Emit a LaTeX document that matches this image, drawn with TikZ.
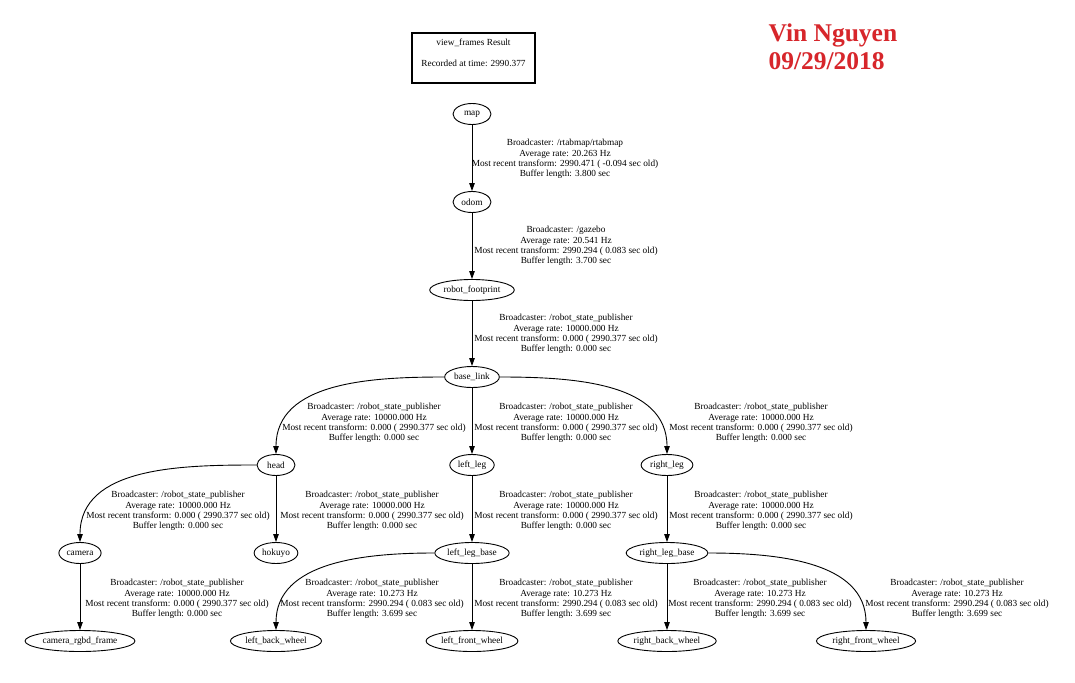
\documentclass[tikz,border=0pt]{standalone}
\usepackage{fontspec}
\setmainfont{Liberation Serif}
\usepackage{xcolor}
\usetikzlibrary{shapes.geometric,arrows.meta}
\definecolor{INK}{HTML}{000000}
\definecolor{SIGN}{HTML}{D7262B}

\begin{document}
\begin{tikzpicture}[
    x=1pt, y=-1pt,
    font=\fontsize{9.3}{10.4}\selectfont,
    frame/.style={ellipse, draw=INK, line width=0.9pt, inner xsep=1.5pt, inner ysep=0pt,
                  minimum height=21pt, minimum width=38pt},
    result/.style={draw=INK, line width=1.1pt, align=center, minimum width=123pt, minimum height=50pt},
    info/.style={align=center, text=INK},
    link/.style={draw=INK, line width=0.9pt, -{Triangle[length=8pt,width=5.5pt]}},
    sign/.style={font=\fontsize{25.5}{28}\selectfont\bfseries, text=SIGN, align=left, anchor=north west},
  ]

  \useasboundingbox[fill=white] (0,0) rectangle (1075,682);

  % --- header ---
  \node[result] (result) at (473.5,58) {view\_frames Result\\[10.4pt]Recorded at time: 2990.377\\\mbox{}};
  \node[sign] (sign) at (765,20) {Vin Nguyen\\09/29/2018};

  % --- frames ---
  \node[frame] (map)   at (472,114) {map};
  \node[frame] (odom)  at (472,202) {odom};
  \node[frame] (footprint) at (472,290) {robot\_footprint};
  \node[frame] (base)  at (472,377) {base\_link};
  \node[frame] (head)  at (276,465) {head};
  \node[frame] (lleg)  at (472,465) {left\_leg};
  \node[frame] (rleg)  at (667,465) {right\_leg};
  \node[frame] (camera) at (80,553) {camera};
  \node[frame] (hokuyo) at (276,553) {hokuyo};
  \node[frame] (llbase) at (472,553) {left\_leg\_base};
  \node[frame] (rlbase) at (667,553) {right\_leg\_base};
  \node[frame] (rgbd)  at (80,641) {camera\_rgbd\_frame};
  \node[frame] (lback) at (276,641) {left\_back\_wheel};
  \node[frame] (lfront) at (472,641) {left\_front\_wheel};
  \node[frame] (rback) at (667,641) {right\_back\_wheel};
  \node[frame] (rfront) at (866,641) {right\_front\_wheel};

  % --- transforms ---
  \draw[link] (map) -- (odom);
  \draw[link] (odom) -- (footprint);
  \draw[link] (footprint) -- (base);
  \draw[link] (base.west) to[out=180, in=90] (head.north);
  \draw[link] (base) -- (lleg);
  \draw[link] (base.east) to[out=0, in=90] (rleg.north);
  \draw[link] (head.west) to[out=180, in=90] (camera.north);
  \draw[link] (head) -- (hokuyo);
  \draw[link] (lleg) -- (llbase);
  \draw[link] (rleg) -- (rlbase);
  \draw[link] (camera) -- (rgbd);
  \draw[link] (llbase.west) to[out=180, in=90] (lback.north);
  \draw[link] (llbase) -- (lfront);
  \draw[link] (rlbase) -- (rback);
  \draw[link] (rlbase.east) to[out=0, in=90] (rfront.north);

  % --- broadcaster notes ---
  \node[info] (i1) at (565,159) {Broadcaster: /rtabmap/rtabmap\\Average rate: 20.263 Hz\\Most recent transform: 2990.471 ( -0.094 sec old)\\Buffer length: 3.800 sec};
  \node[info] (i2) at (566,246) {Broadcaster: /gazebo\\Average rate: 20.541 Hz\\Most recent transform: 2990.294 ( 0.083 sec old)\\Buffer length: 3.700 sec};
  \node[info] (i3) at (566,334) {Broadcaster: /robot\_state\_publisher\\Average rate: 10000.000 Hz\\Most recent transform: 0.000 ( 2990.377 sec old)\\Buffer length: 0.000 sec};

  \node[info] (i4) at (374,423) {Broadcaster: /robot\_state\_publisher\\Average rate: 10000.000 Hz\\Most recent transform: 0.000 ( 2990.377 sec old)\\Buffer length: 0.000 sec};
  \node[info] (i5) at (566,423) {Broadcaster: /robot\_state\_publisher\\Average rate: 10000.000 Hz\\Most recent transform: 0.000 ( 2990.377 sec old)\\Buffer length: 0.000 sec};
  \node[info] (i6) at (761,423) {Broadcaster: /robot\_state\_publisher\\Average rate: 10000.000 Hz\\Most recent transform: 0.000 ( 2990.377 sec old)\\Buffer length: 0.000 sec};

  \node[info] (i7) at (178,511) {Broadcaster: /robot\_state\_publisher\\Average rate: 10000.000 Hz\\Most recent transform: 0.000 ( 2990.377 sec old)\\Buffer length: 0.000 sec};
  \node[info] (i8) at (372,511) {Broadcaster: /robot\_state\_publisher\\Average rate: 10000.000 Hz\\Most recent transform: 0.000 ( 2990.377 sec old)\\Buffer length: 0.000 sec};
  \node[info] (i9) at (566,511) {Broadcaster: /robot\_state\_publisher\\Average rate: 10000.000 Hz\\Most recent transform: 0.000 ( 2990.377 sec old)\\Buffer length: 0.000 sec};
  \node[info] (i10) at (761,511) {Broadcaster: /robot\_state\_publisher\\Average rate: 10000.000 Hz\\Most recent transform: 0.000 ( 2990.377 sec old)\\Buffer length: 0.000 sec};

  \node[info] (i11) at (177,599) {Broadcaster: /robot\_state\_publisher\\Average rate: 10000.000 Hz\\Most recent transform: 0.000 ( 2990.377 sec old)\\Buffer length: 0.000 sec};
  \node[info] (i12) at (372,599) {Broadcaster: /robot\_state\_publisher\\Average rate: 10.273 Hz\\Most recent transform: 2990.294 ( 0.083 sec old)\\Buffer length: 3.699 sec};
  \node[info] (i13) at (566,599) {Broadcaster: /robot\_state\_publisher\\Average rate: 10.273 Hz\\Most recent transform: 2990.294 ( 0.083 sec old)\\Buffer length: 3.699 sec};
  \node[info] (i14) at (760,599) {Broadcaster: /robot\_state\_publisher\\Average rate: 10.273 Hz\\Most recent transform: 2990.294 ( 0.083 sec old)\\Buffer length: 3.699 sec};
  \node[info] (i15) at (957,599) {Broadcaster: /robot\_state\_publisher\\Average rate: 10.273 Hz\\Most recent transform: 2990.294 ( 0.083 sec old)\\Buffer length: 3.699 sec};

\end{tikzpicture}
\end{document}
